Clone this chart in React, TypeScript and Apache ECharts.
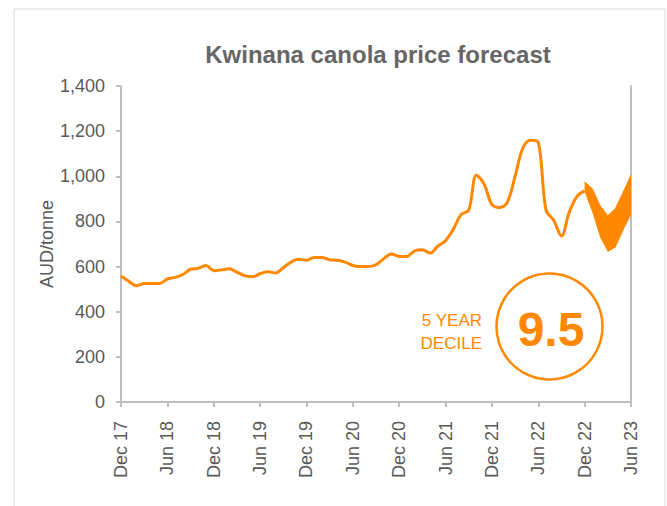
import React, { useEffect, useRef } from "react";
import * as echarts from "echarts";

const monthNames = ["Jan", "Feb", "Mar", "Apr", "May", "Jun", "Jul", "Aug", "Sep", "Oct", "Nov", "Dec"];
// Dec 17 .. Jun 23, monthly
const categories: string[] = [];
for (let k = 0; k < 67; k++) {
  const m = (11 + k) % 12;
  const y = 17 + Math.floor((11 + k) / 12);
  categories.push(`${monthNames[m]} ${y}`);
}

// Historical price, Dec 17 .. Dec 22 (AUD/tonne)
const price = [
  558, 535, 515, 525, 525, 525, 545, 552, 565, 588, 592, 605,
  582, 585, 590, 575, 560, 555, 568, 577, 572, 595, 620, 632,
  628, 640, 640, 630, 628, 620, 605, 600, 600, 608, 635, 656,
  645, 645, 670, 675, 660, 690, 715, 765, 830, 850, 1005, 965,
  875, 862, 885, 1000, 1125, 1160, 1150, 850, 805, 735, 840, 910,
  935,
];

// Forecast range, Dec 22 .. Jun 23
const bandLow = [930, 840, 730, 665, 685, 760, 830];
const bandHigh = [975, 945, 870, 825, 858, 930, 1005];

const yTicks = { min: 0, max: 1400, interval: 200 };

const ORANGE = "#ff8800";
const GRAY = "#595959";
const AXIS = "#bfbfbf";
const FONT = "'Liberation Sans', Arial, sans-serif";

export default function App() {
  const ref = useRef<HTMLDivElement>(null);
  useEffect(() => {
    if (!ref.current) return;
    const chart = echarts.init(ref.current, null, { renderer: "svg" });
    const n = categories.length;
    const bandStart = n - bandLow.length;
    const mainData = categories.map((_, i) => (i < price.length ? price[i] : null));
    const lowData = categories.map((_, i) => (i >= bandStart ? bandLow[i - bandStart] : null));
    const diffData = categories.map((_, i) =>
      i >= bandStart ? bandHigh[i - bandStart] - bandLow[i - bandStart] : null
    );

    chart.setOption({
      animation: false,
      backgroundColor: "#ffffff",
      title: {
        text: "Kwinana canola price forecast",
        left: 373,
        top: 37,
        textAlign: "center",
        textStyle: { fontFamily: FONT, fontSize: 24, fontWeight: "bold", color: "#666666" },
      },
      grid: { left: 121, right: 36, top: 86, bottom: 104, containLabel: false },
      xAxis: {
        type: "category",
        data: categories,
        boundaryGap: false,
        axisLine: { lineStyle: { color: AXIS, width: 2 } },
        axisTick: { interval: 5, length: 5, lineStyle: { color: AXIS, width: 2 } },
        axisLabel: {
          interval: 5,
          rotate: 90,
          margin: 19,
          color: GRAY,
          fontFamily: FONT,
          fontSize: 18,
        },
        splitLine: { show: false },
      },
      yAxis: [
        {
          type: "value",
          ...yTicks,
          name: "AUD/tonne",
          nameLocation: "middle",
          nameRotate: 90,
          nameGap: 65,
          nameMoveOverlap: false,
          nameTextStyle: { color: GRAY, fontFamily: FONT, fontSize: 18 },
          axisLine: { show: true, lineStyle: { color: AXIS, width: 2 } },
          axisTick: { show: true, length: 5, lineStyle: { color: AXIS, width: 2 } },
          axisLabel: {
            color: GRAY,
            fontFamily: FONT,
            fontSize: 18,
            margin: 16,
            formatter: (v: number) => v.toLocaleString("en-US"),
          },
          splitLine: { show: false },
        },
        {
          type: "value",
          ...yTicks,
          position: "right",
          axisLine: { show: true, lineStyle: { color: AXIS, width: 2 } },
          axisTick: { show: false },
          axisLabel: { show: false },
          splitLine: { show: false },
        },
      ],
      series: [
        {
          type: "line",
          data: mainData,
          smooth: 0.35,
          showSymbol: false,
          connectNulls: false,
          lineStyle: { color: ORANGE, width: 3 },
          z: 3,
        },
        {
          type: "line",
          data: lowData,
          stack: "band",
          showSymbol: false,
          lineStyle: { width: 0, opacity: 0 },
          z: 2,
        },
        {
          type: "line",
          data: diffData,
          stack: "band",
          showSymbol: false,
          lineStyle: { width: 1, color: ORANGE },
          areaStyle: { color: ORANGE, opacity: 1 },
          z: 2,
        },
      ],
      graphic: [
        {
          type: "rect",
          shape: { x: 14, y: 9, width: 651, height: 520 },
          style: { fill: "none", stroke: "#d9d9d9", lineWidth: 1 },
          silent: true,
          z: -1,
        },
        {
          type: "circle",
          shape: { cx: 549.5, cy: 326.5, r: 53 },
          style: { fill: "none", stroke: ORANGE, lineWidth: 2.5 },
        },
        {
          type: "text",
          x: 551,
          y: 329,
          style: {
            text: "9.5",
            fill: ORANGE,
            font: `bold 48px ${FONT}`,
            textAlign: "center",
            textVerticalAlign: "middle",
          },
        },
        {
          type: "text",
          x: 482,
          y: 320,
          style: {
            text: "5 YEAR",
            fill: ORANGE,
            font: `17px ${FONT}`,
            textAlign: "right",
            textVerticalAlign: "middle",
          },
        },
        {
          type: "text",
          x: 482,
          y: 343,
          style: {
            text: "DECILE",
            fill: ORANGE,
            font: `17px ${FONT}`,
            textAlign: "right",
            textVerticalAlign: "middle",
          },
        },
      ],
    });
    return () => chart.dispose();
  }, []);

  return (
    <div
      ref={ref}
      style={{ position: "fixed", left: 0, top: 0, width: 667, height: 506, background: "#fff" }}
    />
  );
}
